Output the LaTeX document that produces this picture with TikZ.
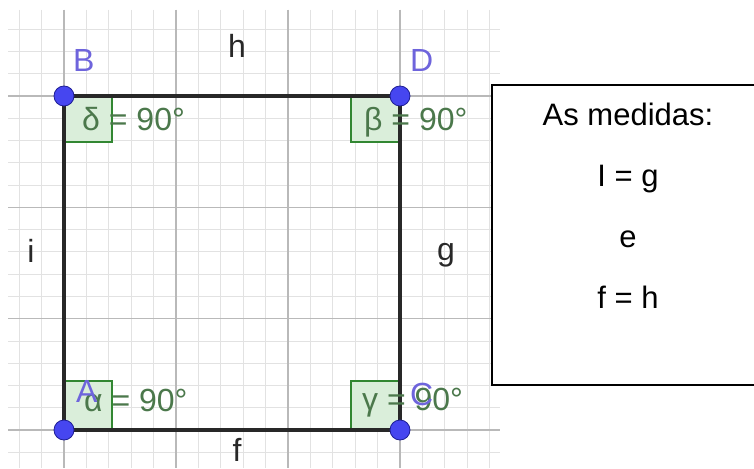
\documentclass[tikz,border=0pt]{standalone}
\usepackage{fontspec}
\setmainfont{Liberation Sans}
\definecolor{gminor}{RGB}{226,226,226}
\definecolor{gmajor}{RGB}{185,185,185}
\definecolor{edge}{RGB}{40,40,40}
\definecolor{ptfill}{RGB}{70,70,240}
\definecolor{ptdraw}{RGB}{30,30,150}
\definecolor{ptlabel}{RGB}{110,100,220}
\definecolor{angdraw}{RGB}{50,135,50}
\definecolor{angfill}{RGB}{218,238,218}
\definecolor{angtext}{RGB}{75,120,75}
\definecolor{seglabel}{RGB}{40,40,40}
\tikzset{
  minorline/.style={draw=gminor, line width=0.9pt},
  majorline/.style={draw=gmajor, line width=1.1pt},
  side/.style={draw=edge, line width=3.2pt},
  pt/.style={circle, fill=ptfill, draw=ptdraw, line width=0.8pt, minimum size=20pt, inner sep=0pt},
  ptlab/.style={text=ptlabel, font=\fontsize{32}{36}\selectfont, anchor=base west, inner sep=0pt},
  seglab/.style={text=seglabel, font=\fontsize{32}{36}\selectfont, anchor=base, inner sep=0pt},
  angbox/.style={draw=angdraw, fill=angfill, line width=2.6pt},
  angtxt/.style={text=angtext, font=\fontsize{32}{36}\selectfont, anchor=base west, inner sep=0pt},
  boxtxt/.style={text=black, font=\fontsize{31}{36}\selectfont, anchor=base, inner sep=0pt}
}
\begin{document}
\begin{tikzpicture}[x=1pt,y=-1pt]
\useasboundingbox (0,0) rectangle (754,468);
\fill[white] (0,0) rectangle (754,468);
% grid
\begin{scope}
\clip (8,10) rectangle (500,468);
\foreach \k in {-3,...,20} \draw[minorline] ({64+22.4*\k},10) -- ({64+22.4*\k},468);
\foreach \k in {-4,...,17} \draw[minorline] (8,{96+22.27*\k}) -- (500,{96+22.27*\k});
\foreach \k in {0,...,3} \draw[majorline] ({64+112*\k},10) -- ({64+112*\k},468);
\foreach \k in {0,...,3} \draw[majorline] (8,{96+111.33*\k}) -- (500,{96+111.33*\k});
\end{scope}
% corner coordinates
\coordinate (a) at (64,430);
\coordinate (b) at (64,96);
\coordinate (d) at (400,96);
\coordinate (c) at (400,430);
% angle squares
\draw[angbox] (b) rectangle (112,142);
\draw[angbox] (d) rectangle (351,142);
\draw[angbox] (a) rectangle (112,381);
\draw[angbox] (c) rectangle (351,381);
% sides
\draw[side] (a) -- (b) -- (d) -- (c) -- cycle;
% angle texts
\node[angtxt] (tdelta) at (82,130) {δ = 90°};
\node[angtxt] (tbeta) at (364,131) {β = 90°};
\node[angtxt] (talpha) at (84,411) {α = 90°};
\node[angtxt] (tgamma) at (362,410) {γ = 90°};
% points
\node[pt] (A) at (a) {};
\node[pt] (B) at (b) {};
\node[pt] (D) at (d) {};
\node[pt] (C) at (c) {};
% point labels
\node[ptlab] (lB) at (73,72) {B};
\node[ptlab] (lD) at (410,72) {D};
\node[ptlab] (lA) at (76,402) {A};
\node[ptlab] (lC) at (410,405) {C};
% side labels
\node[seglab] (lh) at (237,58) {h};
\node[seglab] (li) at (31,262) {i};
\node[seglab] (lg) at (446,260) {g};
\node[seglab] (lf) at (237,461) {f};
% text box
\draw[black, line width=1.5pt, fill=white] (492,85) rectangle (770,385);
\node[boxtxt] (t1) at (628,125) {As medidas:};
\node[boxtxt] (t2) at (628,186) {I = g};
\node[boxtxt] (t3) at (628,247) {e};
\node[boxtxt] (t4) at (628,308) {f = h};
\end{tikzpicture}
\end{document}
